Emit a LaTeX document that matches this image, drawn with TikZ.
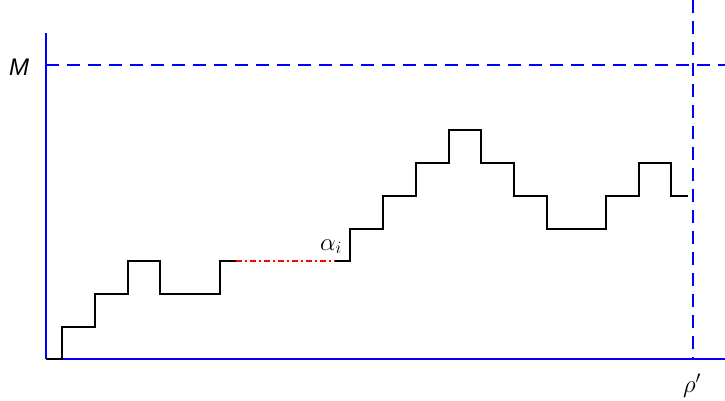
\documentclass[tikz,border=0pt]{standalone}
\usepackage{fontspec}
\newfontfamily\labelfont{Liberation Sans}
\begin{document}
\begin{tikzpicture}[x=1pt,y=-1pt,
  axis/.style={draw=blue,line width=2pt},
  guide/.style={draw=blue,line width=2pt,dash pattern=on 13pt off 8pt},
  walk/.style={draw=black,line width=2pt,line join=miter},
  gap/.style={draw=red,line width=2pt,dash pattern=on 6pt off 3pt on 2pt off 3pt},
  lab/.style={font=\fontsize{25}{29}\selectfont,inner sep=0pt}]
\useasboundingbox (0,0) rectangle (725,400);
% axes
\coordinate (O) at (46,359);
\coordinate (Ytop) at (46,33);
\coordinate (Xend) at (725,359);
\coordinate (Mleft) at (46,65);
\coordinate (Mright) at (725,65);
\coordinate (Rtop) at (693,0);
\coordinate (Rbot) at (693,359);
\draw[guide] (Mleft) -- (Mright);
\draw[guide] (Rtop) -- (Rbot);
\draw[axis] (Ytop) -- (O);
\draw[axis] (O) -- (Xend);
% walk
\coordinate (A) at (236,261);
\coordinate (B) at (335,261);
\draw[walk] (O) -- (62,359) -- (62,327) -- (95,327) -- (95,294) -- (128,294) -- (128,261)
  -- (160,261) -- (160,294) -- (220,294) -- (220,261) -- (A);
\draw[gap] (A) -- (B);
\draw[walk] (B) -- (350,261) -- (350,229) -- (383,229) -- (383,196) -- (416,196) -- (416,163)
  -- (449,163) -- (449,130) -- (481,130) -- (481,163) -- (514,163) -- (514,196) -- (547,196)
  -- (547,229) -- (606,229) -- (606,196) -- (639,196) -- (639,163) -- (671,163) -- (671,196)
  -- (688,196);
% labels
\node[lab,font=\fontsize{24}{28}\selectfont] (Mlab) at (19,67) {\labelfont\itshape M};
\node[lab,anchor=base east] (alab) at (342,250) {$\alpha_i$};
\node[lab] (rlab) at (692,386) {$\rho'$};
\end{tikzpicture}
\end{document}
